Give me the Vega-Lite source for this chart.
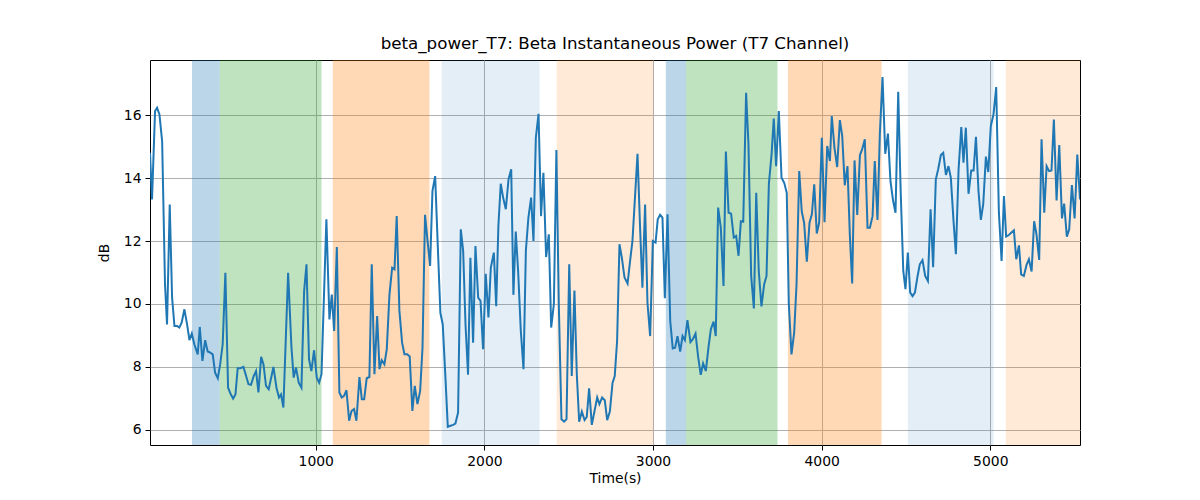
{
  "$schema": "https://vega.github.io/schema/vega-lite/v6.json",
  "width": 930,
  "height": 385,
  "autosize": {"type": "none"},
  "padding": {"left": 150, "top": 60, "right": 120, "bottom": 55},
  "config": {
    "view": {"stroke": "#000", "strokeWidth": 1},
    "font": "DejaVu Sans",
    "axis": {
      "domain": false,
      "grid": true,
      "gridColor": "#b0b0b0",
      "gridWidth": 1,
      "tickColor": "#000",
      "tickSize": 5,
      "labelFont": "DejaVu Sans",
      "labelFontSize": 13.9,
      "labelColor": "#000",
      "labelPadding": 4,
      "titleFont": "DejaVu Sans",
      "titleFontSize": 13.9,
      "titleFontWeight": "normal",
      "titleColor": "#000"
    }
  },
  "title": {
    "text": "beta_power_T7: Beta Instantaneous Power (T7 Channel)",
    "font": "DejaVu Sans",
    "fontSize": 16.7,
    "fontWeight": "normal",
    "color": "#000",
    "offset": 7
  },
  "datasets": {
    "bands": [
      {"start": 266, "end": 431, "phase": "A"},
      {"start": 431, "end": 1034, "phase": "B"},
      {"start": 1101, "end": 1674, "phase": "C"},
      {"start": 1747, "end": 2327, "phase": "D"},
      {"start": 2429, "end": 3001, "phase": "E"},
      {"start": 3076, "end": 3196, "phase": "A"},
      {"start": 3196, "end": 3738, "phase": "B"},
      {"start": 3800, "end": 4355, "phase": "C"},
      {"start": 4511, "end": 5019, "phase": "D"},
      {"start": 5092, "end": 5532, "phase": "E"}
    ],
    "power": [
      {"t": 17, "v": 14.8}, {"t": 29, "v": 13.32}, {"t": 47, "v": 16.13}, {"t": 59, "v": 16.23}, {"t": 73, "v": 16.02},
      {"t": 89, "v": 15.17}, {"t": 106, "v": 10.62}, {"t": 118, "v": 9.35}, {"t": 134, "v": 13.16}, {"t": 148, "v": 10.2},
      {"t": 162, "v": 9.3}, {"t": 178, "v": 9.3}, {"t": 191, "v": 9.25}, {"t": 205, "v": 9.41}, {"t": 221, "v": 9.83},
      {"t": 237, "v": 9.35}, {"t": 251, "v": 8.85}, {"t": 265, "v": 9.06}, {"t": 280, "v": 8.72}, {"t": 300, "v": 8.4},
      {"t": 312, "v": 9.27}, {"t": 328, "v": 8.19}, {"t": 344, "v": 8.85}, {"t": 359, "v": 8.49}, {"t": 373, "v": 8.46},
      {"t": 389, "v": 8.4}, {"t": 403, "v": 7.82}, {"t": 419, "v": 7.64}, {"t": 433, "v": 8.08}, {"t": 448, "v": 8.72},
      {"t": 464, "v": 10.99}, {"t": 480, "v": 7.34}, {"t": 496, "v": 7.13}, {"t": 510, "v": 6.99}, {"t": 524, "v": 7.13},
      {"t": 537, "v": 7.96}, {"t": 553, "v": 7.96}, {"t": 571, "v": 8.0}, {"t": 587, "v": 7.71}, {"t": 601, "v": 7.45},
      {"t": 616, "v": 7.43}, {"t": 632, "v": 7.71}, {"t": 646, "v": 7.87}, {"t": 660, "v": 7.19}, {"t": 676, "v": 8.32},
      {"t": 690, "v": 8.08}, {"t": 705, "v": 7.4}, {"t": 721, "v": 7.29}, {"t": 749, "v": 8.0}, {"t": 767, "v": 7.34},
      {"t": 782, "v": 7.03}, {"t": 794, "v": 7.13}, {"t": 808, "v": 6.71}, {"t": 836, "v": 10.99}, {"t": 856, "v": 8.61},
      {"t": 869, "v": 7.66}, {"t": 883, "v": 7.98}, {"t": 899, "v": 7.5}, {"t": 915, "v": 7.34}, {"t": 931, "v": 10.41},
      {"t": 945, "v": 11.26}, {"t": 960, "v": 8.24}, {"t": 974, "v": 7.87}, {"t": 990, "v": 8.53}, {"t": 1006, "v": 7.66},
      {"t": 1020, "v": 7.5}, {"t": 1034, "v": 7.77}, {"t": 1063, "v": 12.69}, {"t": 1081, "v": 9.51}, {"t": 1095, "v": 10.3},
      {"t": 1109, "v": 9.14}, {"t": 1125, "v": 11.81}, {"t": 1140, "v": 7.19}, {"t": 1154, "v": 7.03}, {"t": 1168, "v": 7.08},
      {"t": 1182, "v": 7.26}, {"t": 1198, "v": 6.29}, {"t": 1212, "v": 6.6}, {"t": 1227, "v": 6.66}, {"t": 1241, "v": 6.29},
      {"t": 1259, "v": 7.68}, {"t": 1273, "v": 6.97}, {"t": 1287, "v": 6.97}, {"t": 1302, "v": 7.64}, {"t": 1318, "v": 7.68},
      {"t": 1332, "v": 11.26}, {"t": 1348, "v": 7.77}, {"t": 1364, "v": 9.62}, {"t": 1378, "v": 7.93}, {"t": 1391, "v": 8.21},
      {"t": 1407, "v": 8.08}, {"t": 1421, "v": 8.56}, {"t": 1437, "v": 10.3}, {"t": 1453, "v": 11.15}, {"t": 1467, "v": 11.1},
      {"t": 1480, "v": 12.79}, {"t": 1496, "v": 9.78}, {"t": 1512, "v": 8.77}, {"t": 1526, "v": 8.4}, {"t": 1542, "v": 8.4},
      {"t": 1557, "v": 8.33}, {"t": 1573, "v": 6.6}, {"t": 1587, "v": 7.4}, {"t": 1603, "v": 6.82}, {"t": 1619, "v": 7.24},
      {"t": 1633, "v": 8.61}, {"t": 1648, "v": 12.83}, {"t": 1662, "v": 12.05}, {"t": 1678, "v": 11.21}, {"t": 1692, "v": 13.59},
      {"t": 1708, "v": 14.06}, {"t": 1724, "v": 11.79}, {"t": 1739, "v": 9.72}, {"t": 1753, "v": 9.35}, {"t": 1769, "v": 7.66},
      {"t": 1783, "v": 6.1}, {"t": 1799, "v": 6.13}, {"t": 1815, "v": 6.16}, {"t": 1828, "v": 6.2}, {"t": 1844, "v": 6.55},
      {"t": 1860, "v": 12.37}, {"t": 1874, "v": 11.7}, {"t": 1888, "v": 9.35}, {"t": 1903, "v": 7.75}, {"t": 1917, "v": 11.47},
      {"t": 1933, "v": 8.77}, {"t": 1947, "v": 11.84}, {"t": 1963, "v": 10.2}, {"t": 1977, "v": 10.1}, {"t": 1992, "v": 8.56},
      {"t": 2008, "v": 10.96}, {"t": 2024, "v": 9.57}, {"t": 2038, "v": 11.15}, {"t": 2056, "v": 11.63}, {"t": 2070, "v": 9.93},
      {"t": 2083, "v": 12.48}, {"t": 2097, "v": 13.82}, {"t": 2111, "v": 13.38}, {"t": 2127, "v": 13.01}, {"t": 2143, "v": 13.96},
      {"t": 2159, "v": 14.28}, {"t": 2172, "v": 10.29}, {"t": 2186, "v": 12.3}, {"t": 2200, "v": 11.05}, {"t": 2216, "v": 9.14},
      {"t": 2232, "v": 7.93}, {"t": 2246, "v": 11.7}, {"t": 2261, "v": 12.74}, {"t": 2277, "v": 13.38}, {"t": 2291, "v": 12.0},
      {"t": 2305, "v": 15.28}, {"t": 2321, "v": 16.04}, {"t": 2336, "v": 12.79}, {"t": 2350, "v": 14.17}, {"t": 2366, "v": 11.49},
      {"t": 2382, "v": 12.21}, {"t": 2396, "v": 9.25}, {"t": 2412, "v": 9.99}, {"t": 2427, "v": 14.89}, {"t": 2441, "v": 10.04},
      {"t": 2457, "v": 6.34}, {"t": 2473, "v": 6.26}, {"t": 2487, "v": 6.34}, {"t": 2503, "v": 11.26}, {"t": 2518, "v": 7.71},
      {"t": 2534, "v": 10.43}, {"t": 2548, "v": 7.77}, {"t": 2562, "v": 6.26}, {"t": 2578, "v": 6.58}, {"t": 2594, "v": 6.31},
      {"t": 2607, "v": 6.41}, {"t": 2621, "v": 7.32}, {"t": 2637, "v": 6.16}, {"t": 2653, "v": 6.6}, {"t": 2669, "v": 7.03},
      {"t": 2682, "v": 6.82}, {"t": 2698, "v": 7.03}, {"t": 2714, "v": 6.94}, {"t": 2728, "v": 6.31}, {"t": 2744, "v": 6.58},
      {"t": 2760, "v": 7.5}, {"t": 2773, "v": 7.71}, {"t": 2787, "v": 8.83}, {"t": 2801, "v": 11.9}, {"t": 2815, "v": 11.47},
      {"t": 2831, "v": 10.84}, {"t": 2849, "v": 10.65}, {"t": 2864, "v": 11.37}, {"t": 2878, "v": 12.0}, {"t": 2894, "v": 13.48},
      {"t": 2908, "v": 14.77}, {"t": 2924, "v": 12.32}, {"t": 2937, "v": 10.52}, {"t": 2953, "v": 13.16}, {"t": 2967, "v": 10.04},
      {"t": 2983, "v": 8.98}, {"t": 2999, "v": 12.0}, {"t": 3015, "v": 11.95}, {"t": 3028, "v": 12.69}, {"t": 3042, "v": 12.83},
      {"t": 3056, "v": 12.74}, {"t": 3070, "v": 10.18}, {"t": 3086, "v": 12.85}, {"t": 3102, "v": 9.46}, {"t": 3117, "v": 8.59},
      {"t": 3131, "v": 8.61}, {"t": 3145, "v": 8.98}, {"t": 3161, "v": 8.49}, {"t": 3175, "v": 8.98}, {"t": 3189, "v": 8.85},
      {"t": 3204, "v": 9.49}, {"t": 3222, "v": 8.79}, {"t": 3236, "v": 8.88}, {"t": 3252, "v": 9.06}, {"t": 3268, "v": 8.3},
      {"t": 3283, "v": 7.75}, {"t": 3297, "v": 8.11}, {"t": 3313, "v": 7.87}, {"t": 3329, "v": 8.63}, {"t": 3343, "v": 9.2},
      {"t": 3359, "v": 9.44}, {"t": 3372, "v": 8.98}, {"t": 3386, "v": 13.06}, {"t": 3402, "v": 12.42}, {"t": 3418, "v": 10.57},
      {"t": 3432, "v": 14.84}, {"t": 3448, "v": 12.9}, {"t": 3463, "v": 12.87}, {"t": 3479, "v": 12.11}, {"t": 3493, "v": 12.16},
      {"t": 3507, "v": 11.53}, {"t": 3521, "v": 12.63}, {"t": 3535, "v": 12.61}, {"t": 3552, "v": 16.71}, {"t": 3566, "v": 15.07},
      {"t": 3582, "v": 10.89}, {"t": 3598, "v": 9.86}, {"t": 3612, "v": 13.53}, {"t": 3627, "v": 11.05}, {"t": 3643, "v": 9.92},
      {"t": 3659, "v": 10.62}, {"t": 3673, "v": 10.89}, {"t": 3687, "v": 13.82}, {"t": 3703, "v": 14.75}, {"t": 3716, "v": 15.89},
      {"t": 3730, "v": 14.38}, {"t": 3746, "v": 16.13}, {"t": 3762, "v": 14.01}, {"t": 3778, "v": 13.85}, {"t": 3793, "v": 13.53},
      {"t": 3805, "v": 10.04}, {"t": 3821, "v": 8.4}, {"t": 3837, "v": 9.09}, {"t": 3851, "v": 10.62}, {"t": 3867, "v": 14.22},
      {"t": 3882, "v": 12.93}, {"t": 3896, "v": 12.58}, {"t": 3912, "v": 11.34}, {"t": 3928, "v": 12.58}, {"t": 3942, "v": 12.85},
      {"t": 3956, "v": 13.8}, {"t": 3971, "v": 12.24}, {"t": 3985, "v": 12.58}, {"t": 4001, "v": 15.28}, {"t": 4017, "v": 12.6},
      {"t": 4033, "v": 15.02}, {"t": 4049, "v": 14.54}, {"t": 4060, "v": 15.97}, {"t": 4076, "v": 14.96}, {"t": 4092, "v": 14.35},
      {"t": 4108, "v": 15.84}, {"t": 4122, "v": 15.33}, {"t": 4137, "v": 13.77}, {"t": 4153, "v": 14.38}, {"t": 4167, "v": 12.21},
      {"t": 4181, "v": 10.65}, {"t": 4195, "v": 14.56}, {"t": 4211, "v": 12.83}, {"t": 4227, "v": 14.73}, {"t": 4240, "v": 14.91},
      {"t": 4256, "v": 15.23}, {"t": 4272, "v": 12.42}, {"t": 4286, "v": 12.42}, {"t": 4302, "v": 12.79}, {"t": 4315, "v": 14.54},
      {"t": 4331, "v": 12.67}, {"t": 4345, "v": 15.39}, {"t": 4361, "v": 17.21}, {"t": 4377, "v": 14.77}, {"t": 4393, "v": 15.41},
      {"t": 4408, "v": 13.9}, {"t": 4424, "v": 13.27}, {"t": 4438, "v": 12.9}, {"t": 4454, "v": 16.74}, {"t": 4468, "v": 13.69},
      {"t": 4484, "v": 11.05}, {"t": 4497, "v": 10.47}, {"t": 4511, "v": 11.63}, {"t": 4525, "v": 10.36}, {"t": 4539, "v": 10.25},
      {"t": 4553, "v": 10.36}, {"t": 4569, "v": 10.89}, {"t": 4582, "v": 11.26}, {"t": 4598, "v": 11.39}, {"t": 4614, "v": 10.89},
      {"t": 4630, "v": 10.73}, {"t": 4646, "v": 13.01}, {"t": 4661, "v": 11.17}, {"t": 4677, "v": 13.96}, {"t": 4691, "v": 14.28},
      {"t": 4707, "v": 14.73}, {"t": 4721, "v": 14.8}, {"t": 4737, "v": 14.1}, {"t": 4752, "v": 14.38}, {"t": 4766, "v": 14.01},
      {"t": 4782, "v": 12.63}, {"t": 4796, "v": 11.58}, {"t": 4812, "v": 14.28}, {"t": 4828, "v": 15.62}, {"t": 4841, "v": 14.49},
      {"t": 4855, "v": 15.6}, {"t": 4871, "v": 13.5}, {"t": 4887, "v": 14.24}, {"t": 4901, "v": 14.24}, {"t": 4915, "v": 15.31},
      {"t": 4930, "v": 13.59}, {"t": 4944, "v": 12.67}, {"t": 4958, "v": 13.16}, {"t": 4974, "v": 14.68}, {"t": 4988, "v": 14.19},
      {"t": 5003, "v": 15.65}, {"t": 5019, "v": 16.02}, {"t": 5035, "v": 16.89}, {"t": 5051, "v": 12.9}, {"t": 5067, "v": 11.37},
      {"t": 5081, "v": 13.43}, {"t": 5094, "v": 12.14}, {"t": 5110, "v": 12.19}, {"t": 5124, "v": 12.26}, {"t": 5140, "v": 12.34},
      {"t": 5154, "v": 11.42}, {"t": 5170, "v": 11.86}, {"t": 5183, "v": 10.94}, {"t": 5199, "v": 10.89}, {"t": 5215, "v": 11.24},
      {"t": 5229, "v": 11.42}, {"t": 5245, "v": 11.03}, {"t": 5260, "v": 12.63}, {"t": 5274, "v": 12.21}, {"t": 5290, "v": 11.4},
      {"t": 5304, "v": 15.23}, {"t": 5320, "v": 12.9}, {"t": 5334, "v": 14.38}, {"t": 5349, "v": 14.22}, {"t": 5363, "v": 14.24},
      {"t": 5377, "v": 15.86}, {"t": 5393, "v": 13.29}, {"t": 5409, "v": 15.05}, {"t": 5425, "v": 12.72}, {"t": 5438, "v": 13.19},
      {"t": 5454, "v": 12.14}, {"t": 5468, "v": 12.37}, {"t": 5484, "v": 13.78}, {"t": 5500, "v": 12.72}, {"t": 5516, "v": 14.75},
      {"t": 5532, "v": 13.32}
    ]
  },
  "layer": [
    {
      "data": {"name": "bands"},
      "mark": {"type": "rect", "clip": true, "opacity": 1},
      "encoding": {
        "x": {
          "field": "start",
          "type": "quantitative",
          "scale": {"domain": [17, 5532], "nice": false, "zero": false},
          "axis": {"values": [1000, 2000, 3000, 4000, 5000], "format": "d", "title": "Time(s)", "titlePadding": 4}
        },
        "x2": {"field": "end"},
        "color": {
          "field": "phase",
          "type": "nominal",
          "scale": {
            "domain": ["A", "B", "C", "D", "E"],
            "range": ["rgba(31,119,180,0.3)", "rgba(44,160,44,0.3)", "rgba(255,127,14,0.3)", "rgba(31,119,180,0.12)", "rgba(255,127,14,0.16)"]
          },
          "legend": null
        }
      }
    },
    {
      "data": {"name": "power"},
      "mark": {"type": "line", "color": "#1f77b4", "strokeWidth": 2, "clip": true},
      "encoding": {
        "x": {"field": "t", "type": "quantitative"},
        "y": {
          "field": "v",
          "type": "quantitative",
          "scale": {"domain": [5.52, 17.75], "nice": false, "zero": false},
          "axis": {"values": [6, 8, 10, 12, 14, 16], "title": "dB", "titlePadding": 12}
        }
      }
    }
  ]
}
